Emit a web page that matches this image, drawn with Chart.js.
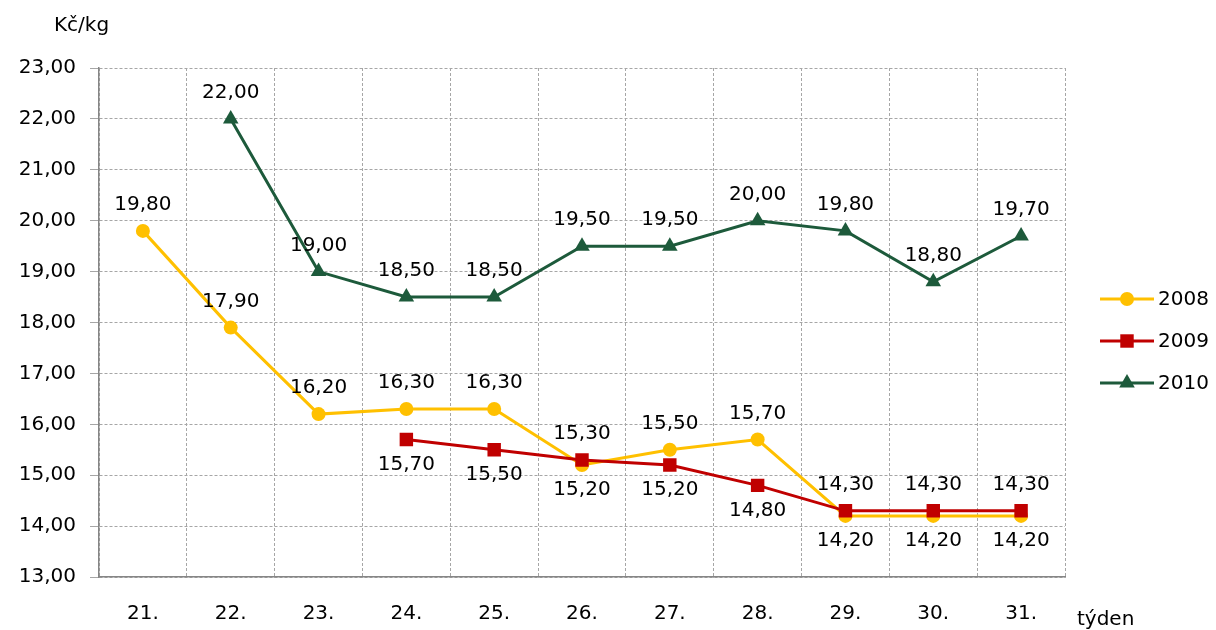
<!DOCTYPE html>
<html>
<head>
<meta charset="utf-8">
<script src="https://cdn.jsdelivr.net/npm/chart.js@4/dist/chart.umd.min.js"></script>
<style>
    html, body { margin: 0; padding: 0; background: #fff; }
    #wrap { width: 1216px; height: 630px; position: relative; }
</style>
</head>
<body>
<div id="wrap"><canvas id="chart"></canvas></div>
<script>
// values
const weeks = ['21.', '22.', '23.', '24.', '25.', '26.', '27.', '28.', '29.', '30.', '31.'];
const price2008 = [19.8, 17.9, 16.2, 16.3, 16.3, 15.2, 15.5, 15.7, 14.2, 14.2, 14.2];
const price2009 = [null, null, null, 15.7, 15.5, 15.3, 15.2, 14.8, 14.3, 14.3, 14.3];
const price2010 = [null, 22.0, 19.0, 18.5, 18.5, 19.5, 19.5, 20.0, 19.8, 18.8, 19.7];
const yTicks = [13, 14, 15, 16, 17, 18, 19, 20, 21, 22, 23];

// where each value label sits: 'a' above the point, 'b' below
const place2008 = ['a', 'a', 'a', 'a', 'a', 'b', 'a', 'a', 'b', 'b', 'b'];
const place2009 = [null, null, null, 'b', 'b', 'a', 'b', 'b', 'a', 'a', 'a'];
const place2010 = [null, 'a', 'a', 'a', 'a', 'a', 'a', 'a', 'a', 'a', 'a'];

const FONT = 'DejaVu Sans, Verdana, sans-serif';
const SIZE = 20;
const fmt = v => v.toFixed(2).replace('.', ',');

const series = [
    { label: '2008', data: price2008, place: place2008, color: '#FFC000', style: 'circle', radius: 7, order: 3 },
    { label: '2009', data: price2009, place: place2009, color: '#C00000', style: 'rect', radius: 9.5, order: 2 },
    { label: '2010', data: price2010, place: place2010, color: '#1D5A3B', style: 'triangle', radius: 9, order: 1 }
];

function marker(ctx, style, x, y, r, color) {
    ctx.save();
    ctx.fillStyle = color;
    ctx.beginPath();
    if (style === 'circle') {
        ctx.arc(x, y, r, 0, Math.PI * 2);
    } else if (style === 'rect') {
        const s = r * Math.SQRT1_2;
        ctx.rect(x - s, y - s, s * 2, s * 2);
    } else {
        ctx.moveTo(x, y - r);
        ctx.lineTo(x + r * 0.866, y + r * 0.5);
        ctx.lineTo(x - r * 0.866, y + r * 0.5);
        ctx.closePath();
    }
    ctx.fill();
    ctx.restore();
}

const extras = {
    id: 'extras',
    afterDatasetsDraw(chart) {
        const ctx = chart.ctx;
        ctx.save();
        ctx.font = SIZE + 'px ' + FONT;
        ctx.fillStyle = '#000';
        ctx.textAlign = 'center';
        ctx.textBaseline = 'middle';
        chart.data.datasets.forEach((ds, i) => {
            const meta = chart.getDatasetMeta(i);
            meta.data.forEach((pt, j) => {
                const v = ds.data[j];
                if (v == null) return;
                const dy = series[i].place[j] === 'a' ? -26 : 25;
                ctx.fillText(fmt(v), pt.x, pt.y + dy);
            });
        });

        // axis captions
        ctx.textAlign = 'left';
        ctx.fillText('Kč/kg', 54, 26);
        ctx.fillText('týden', 1077, 620);

        // legend
        series.forEach((s, i) => {
            const y = 299 + i * 42;
            ctx.strokeStyle = s.color;
            ctx.lineWidth = 3;
            ctx.beginPath();
            ctx.moveTo(1100, y);
            ctx.lineTo(1154, y);
            ctx.stroke();
            marker(ctx, s.style, 1127, y, s.radius, s.color);
            ctx.fillStyle = '#000';
            ctx.fillText(s.label, 1158, y + 1);
        });
        ctx.restore();
    }
};

new Chart(document.getElementById('chart'), {
    type: 'line',
    data: {
        labels: weeks,
        datasets: series.map(s => ({
            label: s.label,
            data: s.data,
            order: s.order,
            borderColor: s.color,
            backgroundColor: s.color,
            borderWidth: 3,
            pointStyle: s.style,
            pointRadius: s.radius,
            pointHoverRadius: s.radius,
            pointBorderWidth: 0,
            tension: 0,
            spanGaps: false
        }))
    },
    options: {
        responsive: true,
        maintainAspectRatio: false,
        animation: false,
        layout: { padding: { left: 0, right: 151, top: 68, bottom: 0 } },
        plugins: {
            legend: { display: false },
            tooltip: { enabled: false }
        },
        scales: {
            x: {
                offset: true,
                grid: { color: '#a6a6a6', lineWidth: 1, tickLength: 0, offset: true },
                border: { color: '#868686', width: 1.5, dash: [3, 2] },
                ticks: { color: '#000', font: { family: FONT, size: SIZE }, padding: 25 },
                afterFit: scale => { scale.height = 53; }
            },
            y: {
                min: 13,
                max: 23,
                afterBuildTicks: scale => { scale.ticks = yTicks.map(v => ({ value: v })); },
                grid: { color: '#a6a6a6', lineWidth: 1, tickLength: 9 },
                border: { color: '#868686', width: 1.5, dash: [3, 2] },
                ticks: { color: '#000', font: { family: FONT, size: SIZE }, padding: 14, callback: v => fmt(v) },
                afterFit: scale => { scale.width = 99; }
            }
        }
    },
    plugins: [extras]
});
</script>
</body>
</html>
